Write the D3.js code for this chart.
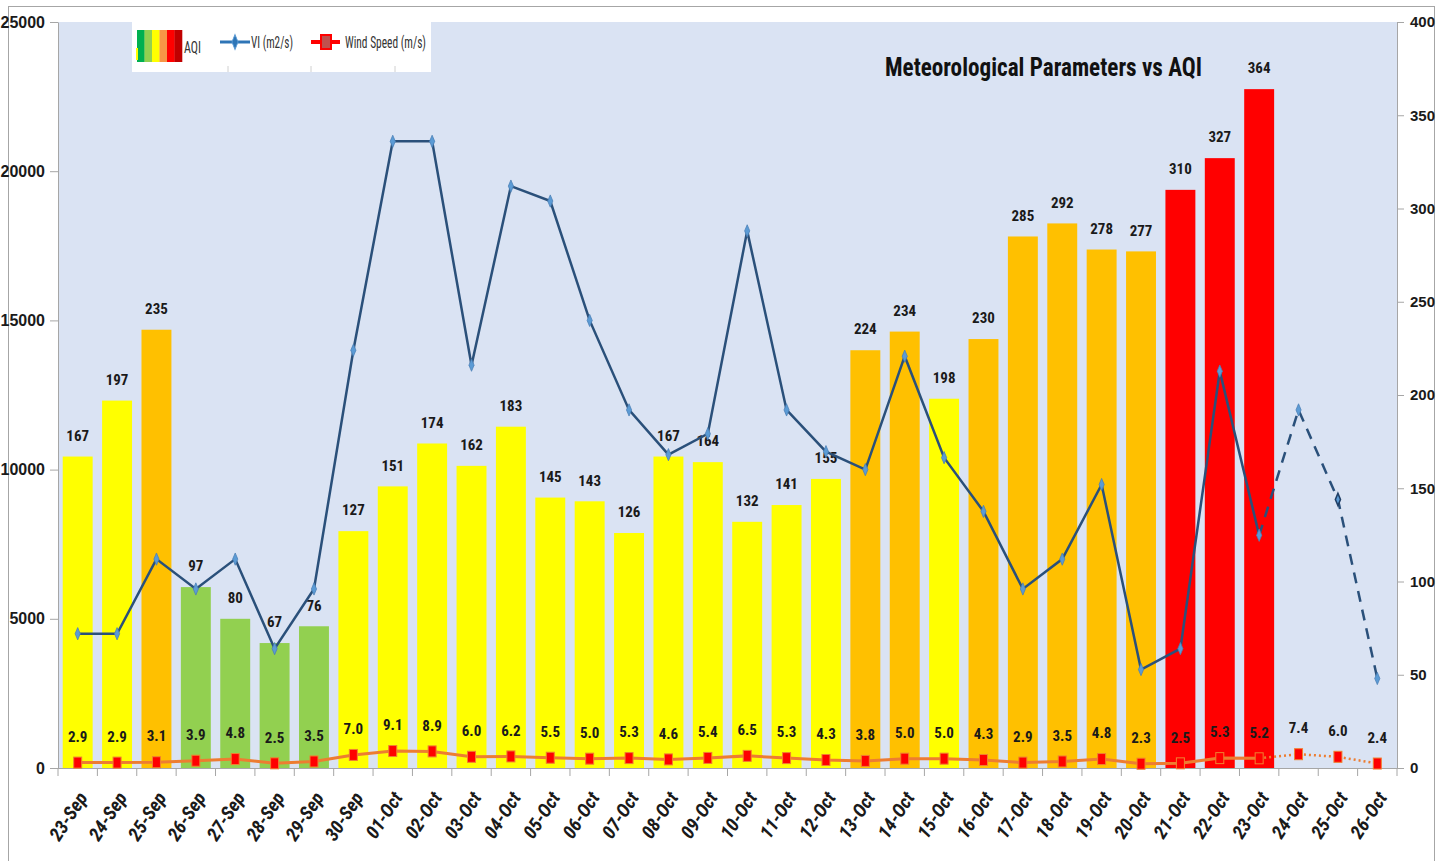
<!DOCTYPE html>
<html>
<head>
<meta charset="utf-8">
<script src="https://cdn.jsdelivr.net/npm/d3@7"></script>
<style>
  body { margin: 0; background: #ffffff; }
  svg { display: block; }
  text { font-family: "Liberation Sans Narrow", "Arial Narrow", "Roboto Condensed", sans-serif; }
</style>
</head>
<body>
<svg id="chart" width="1437" height="861"></svg>
<script>
const categories = ["23-Sep","24-Sep","25-Sep","26-Sep","27-Sep","28-Sep","29-Sep","30-Sep",
  "01-Oct","02-Oct","03-Oct","04-Oct","05-Oct","06-Oct","07-Oct","08-Oct","09-Oct","10-Oct",
  "11-Oct","12-Oct","13-Oct","14-Oct","15-Oct","16-Oct","17-Oct","18-Oct","19-Oct","20-Oct",
  "21-Oct","22-Oct","23-Oct","24-Oct","25-Oct","26-Oct"];
// AQI (right axis) – only up to 23-Oct
const aqiValues = [167,197,235,97,80,67,76,127,151,174,162,183,145,143,126,167,164,132,141,155,
  224,234,198,230,285,292,278,277,310,327,364];
// Ventilation index (left axis)
const viValues = [4500,4500,7000,6000,7000,4000,6000,14000,21000,21000,13500,19500,19000,15000,
  12000,10500,11200,18000,12000,10600,10000,13800,10400,8600,6000,7000,9500,3300,4000,13300,7800,
  12000,9000,3000];
// Wind speed (right axis)
const windValues = [2.9,2.9,3.1,3.9,4.8,2.5,3.5,7.0,9.1,8.9,6.0,6.2,5.5,5.0,5.3,4.6,5.4,6.5,5.3,
  4.3,3.8,5.0,5.0,4.3,2.9,3.5,4.8,2.3,2.5,5.3,5.2,7.4,6.0,2.4];
const leftTicks = [0,5000,10000,15000,20000,25000];
const rightTicks = [0,50,100,150,200,250,300,350,400];
const forecastStart = "23-Oct";
const titleText = "Meteorological Parameters vs AQI";
const legendLabels = ["AQI","VI (m2/s)","Wind Speed (m/s)"];
const aqiBreaks = [100,200,300];
const aqiPalette = ["#92d050","#ffff00","#ffc000","#ff0000"];
const legendStripes = ["#00b050","#92d050","#ffff00","#f79646","#ff0000","#c00000"];

const svg = d3.select("#chart");
const L = 58, R = 1397, T = 22, B = 768;

const x = d3.scaleBand().domain(categories).range([L, R]).paddingInner(0.24).paddingOuter(0.12);
const yL = d3.scaleLinear().domain([0, 25000]).range([B, T]);
const yR = d3.scaleLinear().domain([0, 400]).range([B, T]);
const color = d3.scaleThreshold().domain(aqiBreaks).range(aqiPalette);
const cx = c => x(c) + x.bandwidth() / 2;

// outer border
svg.append("rect").attr("x", 8.5).attr("y", 6.5).attr("width", 1426).attr("height", 870)
  .attr("fill", "none").attr("stroke", "#a6a6a6").attr("stroke-width", 1);

// plot area
svg.append("rect").attr("x", L).attr("y", T).attr("width", R - L).attr("height", B - T)
  .attr("fill", "#dae3f3");

// bars
const aqiData = aqiValues.map((v, i) => ({ c: categories[i], v }));
svg.append("g").selectAll("rect").data(aqiData).join("rect")
  .attr("x", d => x(d.c)).attr("width", x.bandwidth())
  .attr("y", d => yR(d.v)).attr("height", d => B - yR(d.v))
  .attr("fill", d => color(d.v));

// AQI labels
svg.append("g").selectAll("text").data(aqiData).join("text")
  .attr("x", d => cx(d.c)).attr("y", d => yR(d.v) - 21).attr("dy", "0.35em")
  .attr("text-anchor", "middle").attr("font-size", 15).attr("font-weight", "bold")
  .attr("fill", "#1a1a1a").text(d => d.v);

// axes
const axisColor = "#a6a6a6";
const gL = svg.append("g").attr("transform", `translate(${L},0)`)
  .call(d3.axisLeft(yL).tickValues(leftTicks).tickFormat(d3.format("d")).tickSize(8).tickSizeOuter(0).tickPadding(5));
const gR = svg.append("g").attr("transform", `translate(${R},0)`)
  .call(d3.axisRight(yR).tickValues(rightTicks).tickFormat(d3.format("d")).tickSize(7).tickSizeOuter(0).tickPadding(6));
[gL, gR].forEach(g => {
  g.select(".domain").attr("stroke", axisColor);
  g.selectAll(".tick line").attr("stroke", axisColor);
  g.selectAll(".tick text").attr("font-size", 16).attr("font-weight", "bold").attr("fill", "#1a1a1a")
    .style("font-family", '"Liberation Sans Narrow", "Arial Narrow", sans-serif');
});
gR.selectAll(".tick text").attr("font-size", 15);

// bottom axis line + boundary ticks
svg.append("line").attr("x1", L).attr("x2", R).attr("y1", B + 0.5).attr("y2", B + 0.5)
  .attr("stroke", axisColor);
const step = x.step();
const boundaries = categories.map(c => cx(c) - step / 2).concat([cx(categories[categories.length - 1]) + step / 2]);
svg.append("g").selectAll("line").data(boundaries).join("line")
  .attr("x1", d => d).attr("x2", d => d).attr("y1", B).attr("y2", B + 8)
  .attr("stroke", axisColor);
svg.append("g").selectAll("text").data(categories).join("text")
  .attr("transform", c => `translate(${cx(c) + 5},${B + 26}) rotate(-57)`)
  .attr("text-anchor", "end").attr("dy", "0.35em")
  .attr("font-size", 19).attr("font-weight", "bold").attr("font-style", "italic")
  .attr("fill", "#1a1a1a").text(c => c);

// VI line
const fi = categories.indexOf(forecastStart);
const viData = viValues.map((v, i) => ({ c: categories[i], v, i }));
const viLine = d3.line().x(d => cx(d.c)).y(d => yL(d.v));
svg.append("path").datum(viData.filter(d => d.i <= fi)).attr("d", viLine)
  .attr("fill", "none").attr("stroke", "#2a507a").attr("stroke-width", 2.5);
svg.append("path").datum(viData.filter(d => d.i >= fi)).attr("d", viLine)
  .attr("fill", "none").attr("stroke", "#2a507a").attr("stroke-width", 2.5)
  .attr("stroke-dasharray", "11,8");
svg.append("g").selectAll("path").data(viData).join("path")
  .attr("d", d3.symbol(d3.symbolDiamond, 36))
  .attr("transform", d => `translate(${cx(d.c)},${yL(d.v)}) scale(0.8,1.1)`)
  .attr("fill", "#5b9bd5").attr("stroke", d => d.c === "25-Oct" ? "#1f3f66" : "#4a7fb5")
  .attr("stroke-width", d => d.c === "25-Oct" ? 1.8 : 0.8);

// Wind line
const wData = windValues.map((v, i) => ({ c: categories[i], v, i }));
const wLine = d3.line().x(d => cx(d.c)).y(d => yR(d.v));
svg.append("path").datum(wData.filter(d => d.i <= fi)).attr("d", wLine)
  .attr("fill", "none").attr("stroke", "#ed7d31").attr("stroke-width", 3);
svg.append("path").datum(wData.filter(d => d.i >= fi)).attr("d", wLine)
  .attr("fill", "none").attr("stroke", "#ed7d31").attr("stroke-width", 2.5)
  .attr("stroke-dasharray", "2,3");
svg.append("g").selectAll("rect").data(wData).join("rect")
  .attr("x", d => cx(d.c) - 4).attr("y", d => yR(d.v) - 5.5).attr("width", 8).attr("height", 11)
  .attr("fill", "#ff0000").attr("stroke", "#f08030").attr("stroke-width", 1);
svg.append("g").selectAll("text").data(wData).join("text")
  .attr("x", d => cx(d.c)).attr("y", d => yR(d.v) - 26).attr("dy", "0.35em")
  .attr("text-anchor", "middle").attr("font-size", 15).attr("font-weight", "bold")
  .attr("fill", "#1a1a1a").text(d => d3.format(".1f")(d.v));

// title
svg.append("text").attr("x", 885).attr("y", 76).attr("font-size", 26).attr("font-weight", "bold")
  .attr("fill", "#111").attr("textLength", 317).attr("lengthAdjust", "spacingAndGlyphs").text(titleText);

// legend
const lg = svg.append("g");
lg.append("rect").attr("x", 132).attr("y", 22).attr("width", 299).attr("height", 50).attr("fill", "#ffffff");
[228, 311, 395].forEach(px => lg.append("line").attr("x1", px).attr("x2", px).attr("y1", 66).attr("y2", 72)
  .attr("stroke", "#d0d0d0"));
const sw = d3.scaleBand().domain(d3.range(legendStripes.length)).range([137, 182]);
lg.selectAll("rect.st").data(legendStripes).join("rect").attr("class", "st")
  .attr("x", (d, i) => sw(i)).attr("width", sw.bandwidth() + 0.3).attr("y", 30).attr("height", 32).attr("fill", d => d);
lg.append("rect").attr("x", 136).attr("y", 48).attr("width", 2).attr("height", 12).attr("fill", "#ffff00");
const legendText = (tx, ty, len, s) => lg.append("text").attr("x", tx).attr("y", ty).attr("dy", "0.35em")
  .attr("font-size", 17).attr("fill", "#333").attr("textLength", len).attr("lengthAdjust", "spacingAndGlyphs").text(s);
legendText(184, 47, 17, legendLabels[0]);
lg.append("line").attr("x1", 220).attr("x2", 250).attr("y1", 42).attr("y2", 42).attr("stroke", "#2e75b6").attr("stroke-width", 3);
lg.append("path").attr("d", d3.symbol(d3.symbolDiamond, 50)).attr("transform", "translate(235,42) scale(0.8,1.15)")
  .attr("fill", "#2e75b6").attr("stroke", "#5b9bd5");
legendText(251, 42, 42, legendLabels[1]);
lg.append("line").attr("x1", 311).attr("x2", 340).attr("y1", 42).attr("y2", 42).attr("stroke", "#ff0000").attr("stroke-width", 4);
lg.append("rect").attr("x", 321).attr("y", 35).attr("width", 10).attr("height", 14).attr("fill", "#c0504d").attr("stroke", "#ff0000").attr("stroke-width", 2);
legendText(345, 42, 81, legendLabels[2]);
</script>
</body>
</html>
